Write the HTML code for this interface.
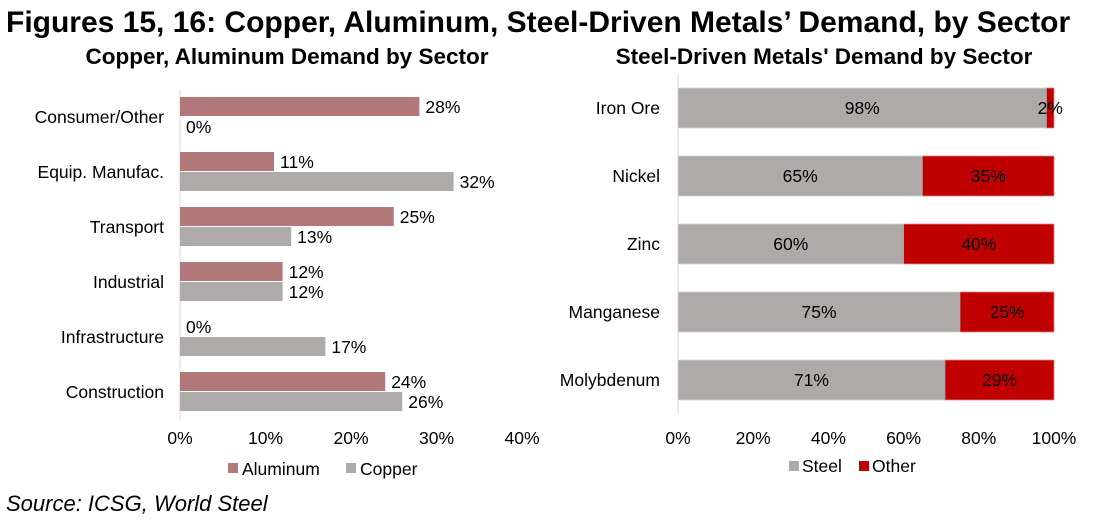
<!DOCTYPE html>
<html><head><meta charset="utf-8"><style>
body{margin:0;background:#fff;font-family:"Liberation Sans",Arial,sans-serif;}
svg text{font-family:"Liberation Sans",Arial,sans-serif;}
</style></head><body>
<svg id="s" width="1101" height="526" xmlns="http://www.w3.org/2000/svg">
<text x="6" y="32" font-size="30" font-weight="bold" fill="#000">Figures 15, 16: Copper, Aluminum, Steel-Driven Metals’ Demand, by Sector</text>
<text x="287" y="64" font-size="22.5" font-weight="bold" text-anchor="middle">Copper, Aluminum Demand by Sector</text>
<text x="824" y="64" font-size="22.5" font-weight="bold" text-anchor="middle">Steel-Driven Metals' Demand by Sector</text>
<text x="6" y="511" font-size="22" font-style="italic">Source: ICSG, World Steel</text>
<g id="left"></g>
<g id="right"></g>
<g>
<rect x="228" y="463" width="10" height="10" fill="#b07878"/>
<text x="242" y="475" font-size="17.5">Aluminum</text>
<rect x="346" y="463" width="10" height="10" fill="#afaaaa"/>
<text x="360" y="475" font-size="17.5">Copper</text>
</g>
<g>
<rect x="789" y="461" width="10" height="10" fill="#afaaaa"/>
<text x="802" y="472" font-size="17.5">Steel</text>
<rect x="859" y="461" width="10" height="10" fill="#c00000"/>
<text x="872" y="472" font-size="17.5">Other</text>
</g>
</svg>
<script>
const leftCats=["Consumer/Other","Equip. Manufac.","Transport","Industrial","Infrastructure","Construction"];
const aluminum=[28,11,25,12,0,24];
const copper=[0,32,13,12,17,26];
const leftTicks=[0,10,20,30,40];
const rightCats=["Iron Ore","Nickel","Zinc","Manganese","Molybdenum"];
const steel=[98,65,60,75,71];
const other=[2,35,40,25,29];
const rightTicks=[0,20,40,60,80,100];

const NS="http://www.w3.org/2000/svg";
function mk(tag,attrs,parent,txt){const e=document.createElementNS(NS,tag);for(const k in attrs)e.setAttribute(k,attrs[k]);if(txt!==undefined)e.textContent=txt;parent.appendChild(e);return e;}

const L=document.getElementById('left');
const lx=v=>180+v*(342/40);
const lTop=89.5,lBand=55;
const lyc=i=>lTop+lBand*(i+0.5);
mk('line',{x1:180,y1:lTop,x2:180,y2:lTop+lBand*6,stroke:'#d9d9d9'},L);
leftTicks.forEach(t=>{
  const e=mk('text',{x:lx(t),y:444,'font-size':17.5,'text-anchor':'middle'},L,t+'%');
  
  
});
leftCats.forEach((c,i)=>{
  const y=lyc(i);
  const e=mk('text',{x:164,y:y+6,'font-size':17.5,'text-anchor':'end'},L,c);
  
  
  const a=mk('rect',{x:180,y:y-20,width:lx(aluminum[i])-180,height:19,fill:'#b07878'},L);
  
  
  const al=mk('text',{x:lx(aluminum[i])+6,y:y-4,'font-size':17.5},L,aluminum[i]+'%');
  
  
  const b=mk('rect',{x:180,y:y,width:lx(copper[i])-180,height:19,fill:'#afaaaa'},L);
  
  
  const bl=mk('text',{x:lx(copper[i])+6,y:y+16,'font-size':17.5},L,copper[i]+'%');
  
  
});

const R=document.getElementById('right');
const rx=v=>678+v*(376/100);
const rTop=74,rBand=68;
const ryc=i=>rTop+rBand*(i+0.5);
mk('line',{x1:678,y1:rTop,x2:678,y2:rTop+rBand*5,stroke:'#d9d9d9'},R);
rightTicks.forEach(t=>{
  const e=mk('text',{x:rx(t),y:444,'font-size':17.5,'text-anchor':'middle'},R,t+'%');
  
  
});
rightCats.forEach((c,i)=>{
  const y=ryc(i);
  const e=mk('text',{x:660,y:y+6,'font-size':17.5,'text-anchor':'end'},R,c);
  
  
  const s=mk('rect',{x:678,y:y-20,width:rx(steel[i])-678,height:40,fill:'#afaaaa',stroke:'#d8d4d4','stroke-width':0.8},R);
  
  
  const o=mk('rect',{x:rx(steel[i]),y:y-20,width:rx(steel[i]+other[i])-rx(steel[i]),height:40,fill:'#c00000',stroke:'#d88','stroke-width':0.8},R);
  
  
  const sl=mk('text',{x:(678+rx(steel[i]))/2,y:y+6,'font-size':17.5,'text-anchor':'middle'},R,steel[i]+'%');
  
  
  const ol=mk('text',{x:(rx(steel[i])+rx(steel[i]+other[i]))/2,y:y+6,'font-size':17.5,'text-anchor':'middle'},R,other[i]+'%');
  
  
});
</script>
</body></html>
